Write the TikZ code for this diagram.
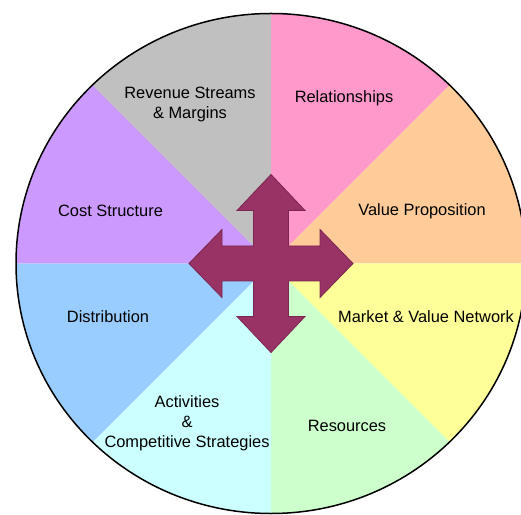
\documentclass[tikz,border=0pt]{standalone}
\usepackage{fontspec}
\setmainfont{Liberation Sans}
\usetikzlibrary{calc}
\definecolor{relpink}{HTML}{FF99CC}
\definecolor{vporange}{HTML}{FFCC99}
\definecolor{mktyellow}{HTML}{FFFF99}
\definecolor{resgreen}{HTML}{CCFFCC}
\definecolor{actcyan}{HTML}{CCFFFF}
\definecolor{distblue}{HTML}{99CCFF}
\definecolor{costpurple}{HTML}{CC99FF}
\definecolor{revgray}{HTML}{C0C0C0}
\definecolor{plum}{HTML}{993366}
\definecolor{plumedge}{HTML}{7A2650}
\begin{document}
\begin{tikzpicture}[x=1pt,y=1pt,
  segtext/.style={font=\fontsize{16.4}{20}\selectfont, align=center, inner sep=0pt, text=black},
  rim/.style={draw=black, line width=1.5pt},
  cross/.style={fill=plum, draw=plumedge, line width=0.8pt, line join=miter}]
\useasboundingbox (0,0) rectangle (521,514);
\coordinate (O) at (271,250.5);
% eight coloured sectors, clipped to the wheel
\begin{scope}
  \clip (O) ellipse [x radius=255, y radius=250];
  \foreach \a/\c in {45/relpink, 0/vporange, -45/mktyellow, -90/resgreen,
                     -135/actcyan, 180/distblue, 135/costpurple, 90/revgray}{
    \fill[\c] (O) -- ++(\a:420) -- ($(O)+(\a+45:420)$) -- cycle;
  }
\end{scope}
\draw[rim] (O) ellipse [x radius=255, y radius=250];
% four-way arrow in the hub
\draw[cross] ($(O)+(0,89)$) -- ++(34,-36) -- ++(-16.5,0) -- ++(0,-35.5)
  -- ++(31.5,0) -- ++(0,16.5) -- ($(O)+(82,0)$) -- ++(-33,-34) -- ++(0,16.5)
  -- ++(-31.5,0) -- ++(0,-35.5) -- ++(16.5,0) -- ($(O)+(0,-89)$) -- ++(-34,36)
  -- ++(16.5,0) -- ++(0,35.5) -- ++(-31.5,0) -- ++(0,-16.5) -- ($(O)+(-82,0)$)
  -- ++(33,34) -- ++(0,-16.5) -- ++(31.5,0) -- ++(0,35.5) -- ++(-16.5,0) -- cycle;
% sector labels
\node[segtext] (rev)  at (190,410)   {Revenue Streams\\\& Margins};
\node[segtext] (rel)  at (344,415.5) {Relationships};
\node[segtext] (cost) at (110.5,302.8) {Cost Structure};
\node[segtext] (vp)   at (422,302.5) {Value Proposition};
\node[segtext] (dist) at (108,197.5) {Distribution};
\node[segtext] (mkt)  at (426,197.5) {Market \& Value Network};
\node[segtext] (res)  at (347,88)    {Resources};
\node[segtext] (act)  at (187,90.5)  {Activities\\\&\\Competitive Strategies};
\end{tikzpicture}
\end{document}
